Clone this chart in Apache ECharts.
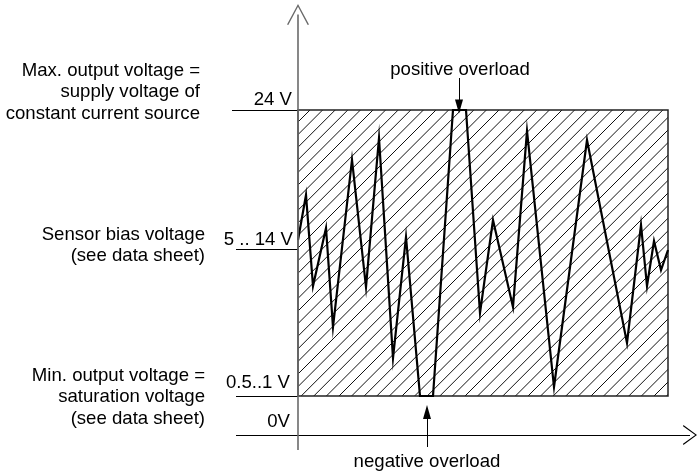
<!DOCTYPE html>
<html><head><meta charset="utf-8">
<script src="https://cdn.jsdelivr.net/npm/echarts@6/dist/echarts.min.js"></script>
<style>html,body{margin:0;padding:0;background:#fff}#c{width:697px;height:472px}</style>
</head><body><div id="c"></div>
<script>
// Schematic units: origin at 0V on the voltage axis, 1 unit ~ 1 px
const signalX = [0, 8, 15, 28, 35, 54, 68, 81, 95, 108, 122, 135, 155, 168, 182, 195, 215, 229, 256, 289, 329, 343, 349, 356, 363, 370];
const signalY = [195, 240, 149, 207, 108, 275, 148, 297, 77, 198, 39, 39, 325, 325, 122, 215, 128, 304, 48, 295, 92, 210, 149, 194, 165, 185];
const levelNames = ['24 V', '5 .. 14 V', '0.5..1 V', '0V'];
const levelValues = [325, 186, 39, 0];
const levelStartX = [-66, -62, -62, -62];
const levelLabelX = [-6, -5, -8, -8];
const levelLabelY = [335, 195, 52, 13];
const descTexts = ['Max. output voltage =\nsupply voltage of\nconstant current source', 'Sensor bias voltage\n(see data sheet)', 'Min. output voltage =\nsaturation voltage\n(see data sheet)'];
const descX = [-98, -93, -93];
const descY = [343, 189.5, 38];
const bandX = [0, 370];
const bandY = [39, 325];
const overloadNames = ['positive overload', 'negative overload'];
const overloadX = [161, 129];
const overloadFrom = [357, -12];
const overloadTo = [328.5, 23];
const overloadLabelX = [162, 129];
const overloadLabelY = [365, -27];
const axisXEnd = 392, axisYEnd = 420.5, axisYStart = -15;

function hatch() {
  const s = 12.6, T = 63;
  const c = document.createElement('canvas'); c.width = T; c.height = T;
  const g = c.getContext('2d'); g.strokeStyle = '#111'; g.lineWidth = 1;
  for (let k = -2; k <= 12; k++) {
    const cc = 4.2 + k * s;
    g.beginPath(); g.moveTo(cc - T - 5, T + 5); g.lineTo(T + 5, cc - T - 5); g.stroke();
  }
  return c;
}
const FONT = 'Liberation Sans, Arial, sans-serif';
const chevron = 'path://M0,20L10,0L20,20L18.8,20.6L10,2.6L1.2,20.6Z';

const signal = signalX.map((x, i) => [x, signalY[i]]);

const lines = [];
levelNames.forEach((n, i) => {
  if (i === 3) return;
  lines.push([{ coord: [levelStartX[i], levelValues[i]], symbol: 'none' }, { coord: [0, levelValues[i]], symbol: 'none' }]);
});
lines.push([{ coord: [levelStartX[3], 0], symbol: 'none' }, { coord: [axisXEnd, 0], symbol: chevron, symbolSize: [20, 14] }]);
lines.push([{ coord: [0, axisYStart], symbol: 'none', lineStyle: { color: '#6a6a6a', width: 1.6 } }, { coord: [0, axisYEnd], symbol: chevron, symbolSize: [22, 21] }]);
overloadNames.forEach((n, i) => {
  lines.push([{ coord: [overloadX[i], overloadFrom[i]], symbol: 'none' }, { coord: [overloadX[i], overloadTo[i]], symbol: 'triangle', symbolSize: [8, 14] }]);
});

const texts = [];
levelNames.forEach((n, i) => texts.push({ name: n, coord: [levelLabelX[i], levelLabelY[i]], label: { align: 'right' } }));
descTexts.forEach((t, i) => texts.push({ name: t, coord: [descX[i], descY[i]], label: { align: 'right' } }));
overloadNames.forEach((n, i) => texts.push({ name: n, coord: [overloadLabelX[i], overloadLabelY[i]], label: { align: 'center' } }));

const chart = echarts.init(document.getElementById('c'), null, { renderer: 'canvas' });
chart.setOption({
  animation: false,
  backgroundColor: '#fff',
  grid: { left: 0, right: 0, top: 0, bottom: 0 },
  xAxis: { type: 'value', min: -298, max: 399, show: false },
  yAxis: { type: 'value', min: -37, max: 435, show: false },
  series: [
    {
      type: 'line', data: [], z: 1, silent: true,
      markArea: {
        silent: true,
        itemStyle: { color: { image: hatch(), repeat: 'repeat' }, borderColor: '#222', borderWidth: 1.5 },
        label: { show: false },
        data: [[{ coord: [bandX[0], bandY[0]] }, { coord: [bandX[1], bandY[1]] }]]
      }
    },
    {
      type: 'line', data: signal, z: 3, silent: true, symbol: 'none',
      lineStyle: { color: '#000', width: 2.2, join: 'miter', miterLimit: 20 }
    },
    {
      type: 'line', data: [], z: 4, silent: true,
      markLine: {
        silent: true, animation: false,
        lineStyle: { color: '#000', width: 1, type: 'solid' },
        label: { show: false },
        data: lines
      },
      markPoint: {
        silent: true, symbol: 'circle', symbolSize: 0,
        label: { show: true, position: 'inside', formatter: '{b}', color: '#000', fontSize: 18.6, lineHeight: 21.5, fontFamily: FONT, verticalAlign: 'middle' },
        data: texts
      }
    }
  ]
});
</script></body></html>
